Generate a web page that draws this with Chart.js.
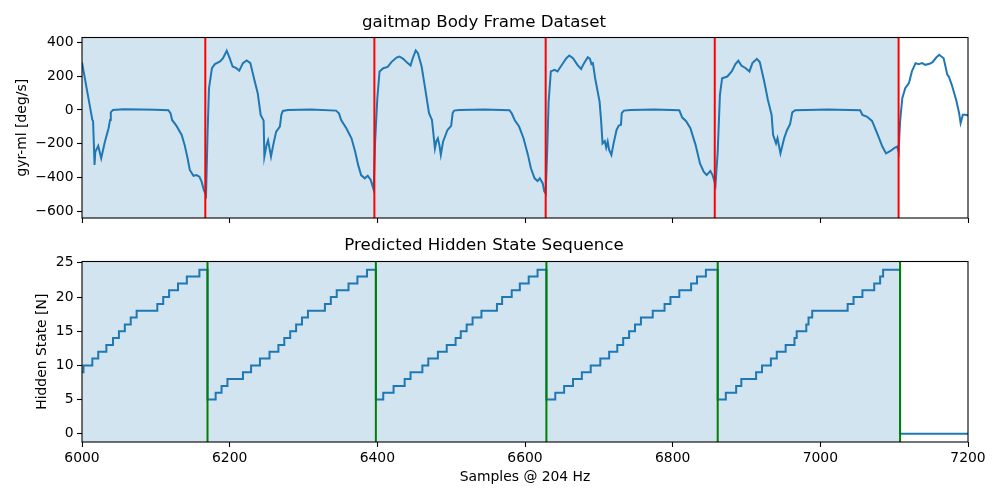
<!DOCTYPE html>
<html>
<head>
<meta charset="utf-8">
<script src="https://cdn.jsdelivr.net/npm/chart.js@4.4.1/dist/chart.umd.min.js"></script>
<style>
html, body { margin: 0; padding: 0; background: #fff; }
#wrap { position: relative; width: 1000px; height: 500px; }
#top { position: absolute; left: 0; top: 0; }
#bot { position: absolute; left: 0; top: 225px; }
</style>
</head>
<body>
<div id="wrap">
<canvas id="top" width="1000" height="225"></canvas>
<canvas id="bot" width="1000" height="275"></canvas>
</div>
<script>
// gyroscope signal (gyr-ml)
var gyrX = [6000,6014,6015,6017,6018,6022,6026,6031,6036,6038,6039,6042,6056,6080,6100,6117,6120,6122,6128,6135,
	6139,6143,6146,6151,6155,6159,6162,6165,6168,6170,6172,6176,6180,6187,6191,6196,6200,6204,6209,6213,
	6218,6223,6228,6234,6238,6242,6246,6247,6250,6252,6256,6259,6263,6268,6270,6272,6279,6310,6344,6348,
	6351,6358,6365,6370,6374,6378,6383,6387,6391,6395,6397,6400,6403,6408,6414,6419,6426,6430,6435,6441,
	6445,6448,6452,6455,6460,6464,6470,6474,6478,6480,6482,6484,6486,6489,6495,6500,6502,6504,6511,6545,
	6579,6582,6586,6592,6598,6604,6608,6613,6617,6620,6624,6626,6628,6630,6632,6635,6640,6644,6650,6656,
	6660,6665,6671,6676,6680,6685,6688,6690,6692,6695,6701,6703,6705,6708,6710,6712,6714,6717,6720,6724,
	6727,6730,6731,6734,6743,6775,6809,6813,6818,6824,6831,6837,6842,6846,6851,6854,6856,6858,6861,6864,
	6867,6874,6880,6885,6889,6893,6899,6904,6908,6914,6918,6924,6929,6934,6936,6940,6942,6946,6951,6955,
	6959,6962,6966,7010,7054,7057,7063,7070,7077,7084,7089,7095,7101,7104,7106,7108,7111,7115,7120,7124,
	7129,7133,7138,7142,7148,7152,7157,7161,7167,7169,7172,7174,7178,7184,7188,7190,7193,7197,7200];
var gyrY = [280,-59,-65,-324,-246,-212,-285,-187,-108,-59,-14,0,4,2,1,-2,-20,-59,-94,-147,
	-206,-285,-354,-388,-384,-393,-423,-472,-502,-147,128,246,270,286,305,349,305,256,246,231,
	276,292,276,168,99,-29,-63,-275,-206,-179,-275,-206,-128,-98,-29,-6,0,2,-4,-20,
	-59,-108,-167,-246,-324,-384,-403,-388,-413,-470,-187,69,227,246,254,282,309,315,301,276,
	262,305,351,335,256,148,-19,-59,-226,-183,-167,-206,-265,-187,-118,-94,-19,-4,0,2,
	-2,-20,-59,-98,-167,-265,-344,-403,-419,-403,-433,-478,-492,-246,49,227,236,227,266,305,
	321,305,266,242,276,311,301,270,276,187,49,-59,-197,-183,-222,-187,-236,-265,-197,-118,
	-92,-88,-19,-4,0,2,-2,-45,-65,-108,-206,-315,-364,-384,-360,-384,-413,-443,-246,89,
	187,197,227,270,290,262,246,227,276,301,282,168,59,-29,-147,-197,-167,-256,-167,-118,
	-84,-14,-2,2,-2,-29,-39,-65,-138,-216,-256,-242,-222,-216,-246,-69,69,128,158,227,
	276,270,276,266,272,282,309,325,305,266,207,197,148,59,-19,-78,-29,-29,-33];

// predicted hidden state: sample where the state changes, and the new state
var stateX = [6000,6002,6014,6022,6033,6042,6050,6058,6066,6074,6102,6110,6118,6130,6142,6159,
	6170,6181,6189,6197,6218,6229,6241,6254,6266,6274,6282,6290,6298,6306,6329,6337,6345,6361,6373,6386,
	6398,6408,6422,6437,6445,6461,6469,6482,6494,6506,6513,6521,6529,6541,6562,6569,6582,6593,6605,6617,
	6629,6641,6653,6665,6677,6689,6702,6714,6725,6733,6741,6749,6757,6773,6789,6797,6809,6825,6833,6845,
	6861,6872,6886,6893,6913,6921,6933,6941,6953,6965,6968,6981,6984,6989,7037,7045,7057,7073,7081,7085,
	7108,7200];
var stateY = [9,10,11,12,13,14,15,16,17,18,19,20,21,22,23,24,
	5,6,7,8,9,10,11,12,13,14,15,16,17,18,19,20,21,22,23,24,
	5,6,7,8,9,10,11,12,13,14,15,16,17,18,19,20,21,22,23,24,
	5,6,7,8,9,10,11,12,13,14,15,16,17,18,19,20,21,22,23,24,
	5,6,7,8,9,10,11,12,13,14,15,16,17,18,19,20,21,22,23,24,
	0,0];

// stride borders
var strideRed = [6167,6396,6628,6857,7106];
var strideGreen = [6170,6398,6629,6861,7108];
var shadeTopEnd = 7106;
var shadeBotEnd = 7108;

var xTicks = [6000,6200,6400,6600,6800,7000,7200];
var gyrTicks = [-600,-400,-200,0,200,400];
var stateTicks = [0,5,10,15,20,25];

var gyrMin = -637, gyrMax = 427;
var stateMin = -1.2, stateMax = 25.2;

var C0 = '#1f77b4';
var shadeColor = 'rgba(31, 119, 180, 0.2)';

Chart.defaults.font.family = "'DejaVu Sans', sans-serif";
Chart.defaults.color = '#000';

function pts(xs, ys) {
	var out = [];
	for (var i = 0; i < xs.length; i++) out.push({x: xs[i], y: ys[i]});
	return out;
}
function vlines(xs, lo, hi) {
	var out = [];
	xs.forEach(function(x){
		out.push({x: x, y: lo}, {x: x, y: hi}, {x: x, y: null});
	});
	return out;
}
function minus(v) {
	return v < 0 ? '\u2212' + (-v) : String(v);
}

// matplotlib style box around the axes
var frame = {
	id: 'frame',
	afterDraw: function(chart) {
		var a = chart.chartArea, ctx = chart.ctx;
		ctx.save();
		ctx.strokeStyle = '#000';
		ctx.lineWidth = 1.1;
		ctx.strokeRect(a.left, a.top, a.right - a.left, a.bottom - a.top);
		ctx.restore();
	}
};

function xAxis(showLabels, height, title) {
	return {
		type: 'linear', min: 6000, max: 7200,
		afterBuildTicks: function(s){ s.ticks = xTicks.map(function(v){ return {value: v}; }); },
		ticks: { display: showLabels, padding: 3.5, font: {size: 13.9}, maxRotation: 0, autoSkip: false,
			callback: function(v){ return String(v); } },
		grid: { drawOnChartArea: false, tickLength: 5, tickColor: '#000', tickWidth: 1.1 },
		border: { display: false },
		title: title,
		afterFit: function(s){ s.height = height; s.paddingLeft = 0; s.paddingRight = 0; }
	};
}
function yAxis(min, max, ticks, label, titlePad) {
	return {
		type: 'linear', min: min, max: max,
		afterBuildTicks: function(s){ s.ticks = ticks.map(function(v){ return {value: v}; }); },
		ticks: { padding: 3.5, font: {size: 13.9}, callback: minus },
		grid: { drawOnChartArea: false, tickLength: 5, tickColor: '#000', tickWidth: 1.1 },
		border: { display: false },
		title: { display: true, text: label, font: {size: 13.9}, padding: {top: titlePad, bottom: 0} },
		afterFit: function(s){ s.width = 82; s.paddingTop = 0; s.paddingBottom = 0; }
	};
}

var topChart = new Chart(document.getElementById('top'), {
	type: 'line',
	data: {
		datasets: [
			{ data: vlines(strideRed, gyrMin, gyrMax), borderColor: '#ff0000', borderWidth: 2,
				pointRadius: 0, spanGaps: false, order: 0 },
			{ data: pts(gyrX, gyrY), borderColor: C0, borderWidth: 2, pointRadius: 0, order: 1 },
			{ data: [{x: 6000, y: gyrMax}, {x: shadeTopEnd, y: gyrMax}], borderWidth: 0, pointRadius: 0,
				fill: 'start', backgroundColor: shadeColor, order: 2 }
		]
	},
	options: {
		responsive: false, animation: false, events: [],
		layout: { padding: {left: 0, right: 32, top: 0, bottom: 0} },
		plugins: {
			legend: { display: false },
			tooltip: { enabled: false },
			title: { display: true, text: 'gaitmap Body Frame Dataset', font: {size: 16.67, weight: 'normal'},
				padding: {top: 13, bottom: 4.5} }
		},
		scales: {
			x: xAxis(false, 7, {display: false}),
			y: yAxis(gyrMin, gyrMax, gyrTicks, 'gyr-ml [deg/s]', 13.7)
		}
	},
	plugins: [frame]
});

var botChart = new Chart(document.getElementById('bot'), {
	type: 'line',
	data: {
		datasets: [
			{ data: vlines(strideGreen, stateMin, stateMax), borderColor: '#008000', borderWidth: 2,
				pointRadius: 0, spanGaps: false, order: 0 },
			{ data: pts(stateX, stateY), borderColor: C0, borderWidth: 2, pointRadius: 0, stepped: true, order: 1 },
			{ data: [{x: 6000, y: stateMax}, {x: shadeBotEnd, y: stateMax}], borderWidth: 0, pointRadius: 0,
				fill: 'start', backgroundColor: shadeColor, order: 2 }
		]
	},
	options: {
		responsive: false, animation: false, events: [],
		layout: { padding: {left: 0, right: 32, top: 0, bottom: 0} },
		plugins: {
			legend: { display: false },
			tooltip: { enabled: false },
			title: { display: true, text: 'Predicted Hidden State Sequence', font: {size: 16.67, weight: 'normal'},
				padding: {top: 11, bottom: 5.5} }
		},
		scales: {
			x: xAxis(true, 58, {display: true, text: 'Samples @ 204 Hz', font: {size: 13.9}, padding: {top: 0, bottom: 14.7}}),
			y: yAxis(stateMin, stateMax, stateTicks, 'Hidden State [N]', 33.7)
		}
	},
	plugins: [frame]
});
</script>
</body>
</html>
